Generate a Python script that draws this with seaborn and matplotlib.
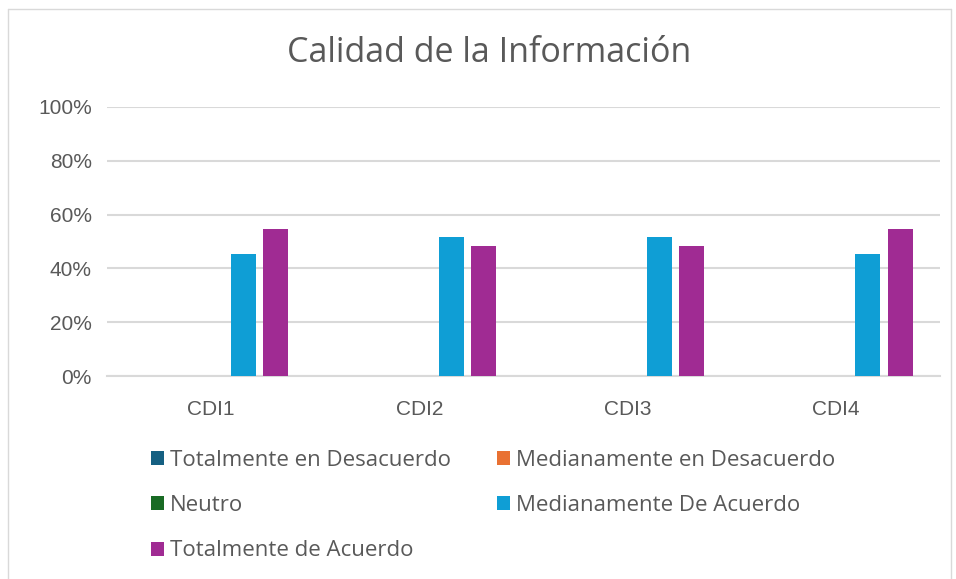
import matplotlib
matplotlib.use("Agg")
import matplotlib.pyplot as plt
from matplotlib.patches import Patch
from matplotlib.lines import Line2D
from matplotlib.ticker import PercentFormatter
import pandas as pd
import seaborn as sns

categories = ["CDI1", "CDI2", "CDI3", "CDI4"]
series = [
    "Totalmente en Desacuerdo",
    "Medianamente en Desacuerdo",
    "Neutro",
    "Medianamente De Acuerdo",
    "Totalmente de Acuerdo",
]
totalmente_desacuerdo = [0.0, 0.0, 0.0, 0.0]
medianamente_desacuerdo = [0.0, 0.0, 0.0, 0.0]
neutro = [0.0, 0.0, 0.0, 0.0]
medianamente_acuerdo = [0.4545, 0.5152, 0.5152, 0.4545]
totalmente_acuerdo = [0.5455, 0.4848, 0.4848, 0.5455]
colors = ["#156082", "#E97132", "#196B24", "#0F9ED5", "#A02B93"]
title = "Calidad de la Información"

values = [totalmente_desacuerdo, medianamente_desacuerdo, neutro,
          medianamente_acuerdo, totalmente_acuerdo]
df = pd.DataFrame(
    [(c, s, v) for s, vals in zip(series, values) for c, v in zip(categories, vals)],
    columns=["item", "respuesta", "valor"],
)

sns.set_theme(style="white")
plt.rcParams["font.family"] = ["Liberation Sans", "DejaVu Sans"]
label_font = ["Open Sans", "DejaVu Sans"]
text_color = "#595959"
grid_color = "#D9D9D9"

W, H = 956, 579
fig = plt.figure(figsize=(W / 100, H / 100), dpi=100)
ax = fig.add_axes([107 / W, (H - 376) / H, (940 - 107) / W, (376 - 107) / H])

sns.barplot(data=df, x="item", y="valor", hue="respuesta", order=categories,
            hue_order=series, palette=colors, saturation=1, width=0.77, gap=0.22,
            linewidth=0, errorbar=None, legend=False, ax=ax, zorder=3)

ax.set_ylim(0, 1)
ax.set_yticks([0, 0.2, 0.4, 0.6, 0.8, 1.0])
ax.yaxis.set_major_formatter(PercentFormatter(1.0, decimals=0))
ax.set_xlim(-0.5, len(categories) - 0.5)
ax.set_xlabel("")
ax.set_ylabel("")
ax.grid(axis="y", color=grid_color, linewidth=1.5, zorder=0)
for side in ["top", "right", "left"]:
    ax.spines[side].set_visible(False)
ax.spines["bottom"].set_color(grid_color)
ax.spines["bottom"].set_linewidth(1.5)
ax.tick_params(axis="both", length=0, colors=text_color, labelsize=15)
ax.tick_params(axis="y", pad=11)
ax.tick_params(axis="x", pad=17)

fig.text(489 / W, 1 - 53 / H, title, ha="center", va="center",
         fontsize=24.5, color=text_color, family=label_font)

# legend filled row by row
order = [0, 2, 4, 1, 3]
handles = [Patch(facecolor=colors[i], edgecolor="none") for i in order]
labels = [series[i] for i in order]
fig.legend(handles, labels, ncol=2, loc="upper left",
           bbox_to_anchor=(151 / W, 1 - 450 / H), frameon=False,
           prop={"family": label_font, "size": 16}, labelcolor=text_color,
           handlelength=0.6, handleheight=0.6, handletextpad=0.25,
           columnspacing=2.08, labelspacing=1.09, borderaxespad=0, borderpad=0)

# chart frame
frame_kw = dict(color="#D9D9D9", linewidth=1.0, transform=fig.transFigure)
x0, x1, y0 = 8 / W, 951 / W, 1 - 9 / H
fig.add_artist(Line2D([x0, x1], [y0, y0], **frame_kw))
fig.add_artist(Line2D([x0, x0], [y0, 0], **frame_kw))
fig.add_artist(Line2D([x1, x1], [y0, 0], **frame_kw))

fig.savefig("out.png", dpi=100, facecolor="white")
